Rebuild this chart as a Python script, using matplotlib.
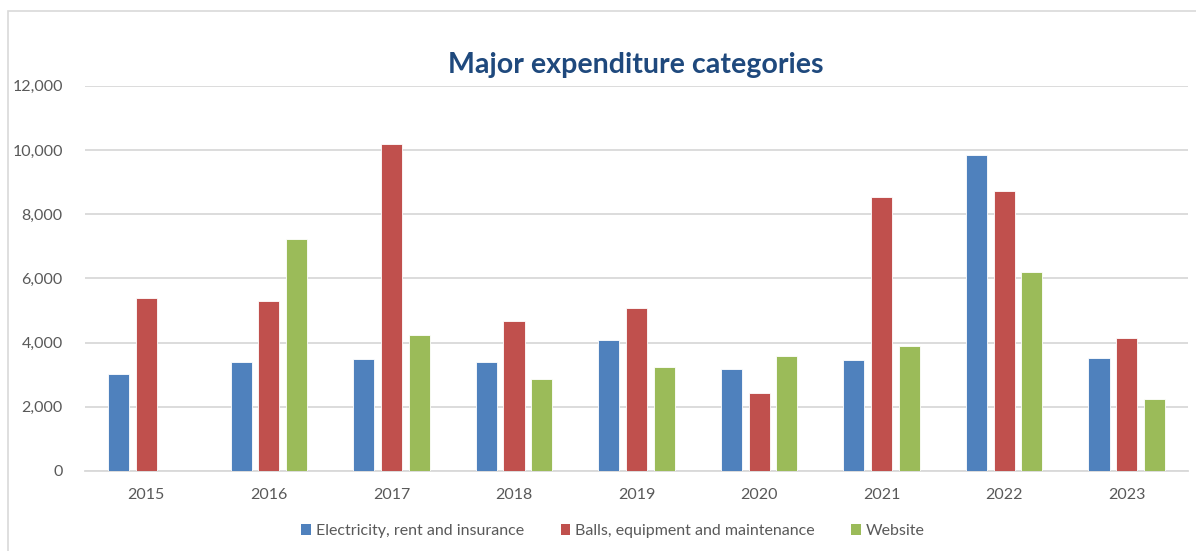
import matplotlib
matplotlib.use("Agg")
import matplotlib.pyplot as plt
import numpy as np
from matplotlib.patches import Rectangle, Patch

plt.rcParams['font.family'] = ['Lato', 'DejaVu Sans']

years = ["2015", "2016", "2017", "2018", "2019", "2020", "2021", "2022", "2023"]
electricity = [3020, 3410, 3500, 3410, 4090, 3180, 3450, 9850, 3530]
balls = [5390, 5280, 10190, 4660, 5080, 2430, 8520, 8730, 4150]
website = [0, 7240, 4220, 2880, 3240, 3590, 3890, 6210, 2250]

series_names = ["Electricity, rent and insurance",
                "Balls, equipment and maintenance",
                "Website"]
colors = ["#4F81BD", "#C0504D", "#9BBB59"]

fig = plt.figure(figsize=(11.96, 5.51), dpi=100)
ax = fig.add_axes([0.0711, 0.1452, 0.9222, 0.6993])

x = np.arange(len(years))
w = 0.172
step = 0.226
for i, (vals, c) in enumerate(zip([electricity, balls, website], colors)):
    ax.bar(x + (i - 1) * step, vals, width=w, color=c,
           edgecolor="white", linewidth=0.6, zorder=3)

ax.set_xlim(-0.5, len(years) - 0.5)
ax.set_ylim(0, 12000)
ax.set_yticks(np.arange(0, 12001, 2000))
ax.set_yticklabels([f"{v:,}" for v in range(0, 12001, 2000)])
ax.set_xticks(x)
ax.set_xticklabels(years)
ax.tick_params(axis="both", length=0, labelsize=11.5, colors="#595959")
ax.tick_params(axis="x", pad=12)
ax.tick_params(axis="y", pad=16)
ax.grid(axis="y", color="#D9D9D9", linewidth=1.3, zorder=0)
for s in ["top", "right", "left"]:
    ax.spines[s].set_visible(False)
ax.spines["bottom"].set_color("#D9D9D9")
ax.spines["bottom"].set_linewidth(1.3)

fig.text(0.5314, 0.882, "Major expenditure categories", ha="center", va="center",
         fontsize=20.6, fontweight="bold", color="#1F497D")

handles = [Patch(facecolor=c) for c in colors]
fig.legend(handles, series_names, loc="center", bbox_to_anchor=(0.5125, 0.036),
           ncol=3, frameon=False, fontsize=11.5, handlelength=0.6, handleheight=0.6,
           handletextpad=0.3, columnspacing=2.3, labelcolor="#595959")

fig.patches.append(Rectangle((8 / 1196, -0.05), 1.2, 1 - 11 / 551 + 0.05,
                             transform=fig.transFigure, fill=False,
                             edgecolor="#D9D9D9", linewidth=1.2))

fig.savefig("out.png", dpi=100)
